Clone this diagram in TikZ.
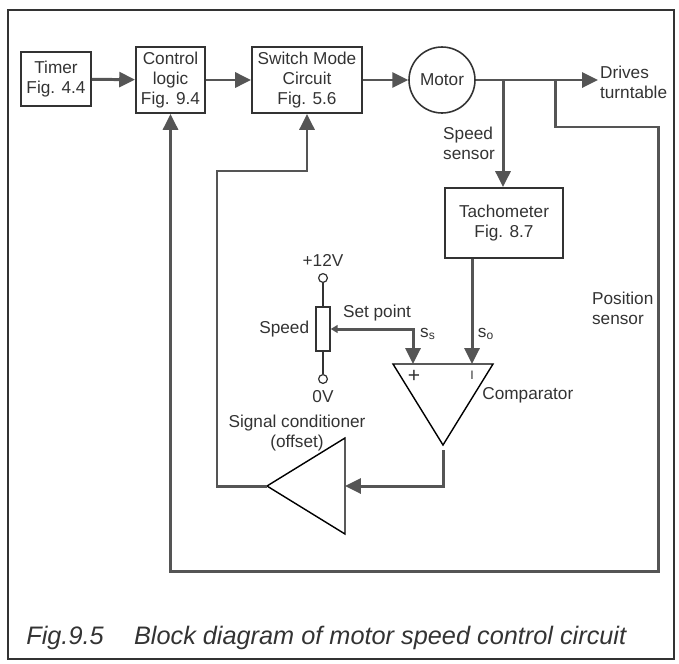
\documentclass[tikz,border=0pt]{standalone}
\usepackage{fontspec}
\setmainfont{Liberation Sans}
\usetikzlibrary{arrows.meta, positioning}
\definecolor{inkgrey}{HTML}{333333}
\definecolor{linegrey}{HTML}{555555}

\begin{document}
\begin{tikzpicture}[
    x=0.02cm, y=-0.02cm,
    font=\fontsize{9.8}{11.4}\selectfont, text=inkgrey,
    % Styles for blocks and signal lines
    block/.style={draw=inkgrey, rectangle, line width=1.1pt, align=center, inner sep=2pt},
    motorbox/.style={draw=inkgrey, circle, line width=0.9pt, minimum size=1.32cm, inner sep=0pt},
    amp/.style={draw=black, line width=0.8pt, line join=miter},
    wire/.style={draw=inkgrey, line width=0.6pt},
    connector/.style={draw=linegrey, line width=1.7pt, -{Triangle[length=9pt, width=8.5pt]}},
    term/.style={draw=inkgrey, circle, line width=0.7pt, minimum size=5pt, inner sep=0pt, fill=white},
    lbl/.style={align=left, inner sep=1pt}
]
    \useasboundingbox (0,0) rectangle (679,663);
    % outer frame
    \draw [line width=1.4pt, draw=inkgrey] (8,10) rectangle (674,659);

    % --- NODES ---
    % forward chain, left to right
    \node [block, minimum width=1.4cm, minimum height=1.08cm] (timer) at (56,79) {Timer\\Fig. 4.4};
    \node [block, minimum width=1.38cm, minimum height=1.32cm] (logic) at (170.5,80) {Control\\logic\\Fig. 9.4};
    \node [block, minimum width=2.2cm, minimum height=1.32cm] (smc) at (307,80) {Switch Mode\\Circuit\\Fig. 5.6};
    \node [motorbox] (motor) at (442,80) {Motor};
    \node [lbl, anchor=west] (drives) at (598,82) {Drives\\turntable};
    \node [block, minimum width=2.36cm, minimum height=1.4cm] (tacho) at (504,223) {Tachometer\\Fig. 8.7};

    % comparator triangle
    \coordinate (cmpl) at (393,364);
    \coordinate (cmpr) at (493,364);
    \coordinate (cmpout) at (443,445);
    \coordinate (cmpplus) at (413,364);
    \coordinate (cmpminus) at (472,364);
    \draw [amp] (cmpl) -- (cmpr) -- (cmpout) -- cycle;

    % signal conditioner triangle
    \coordinate (sctop) at (345,438);
    \coordinate (scbot) at (345,534);
    \coordinate (scout) at (267,486);
    \coordinate (scin) at (345,486);
    \draw [amp] (sctop) -- (scbot) -- (scout) -- cycle;

    % speed potentiometer
    \node [draw=inkgrey, line width=0.8pt, minimum width=0.28cm, minimum height=0.88cm, inner sep=0pt] (pot) at (323,329) {};
    \node [term] (vtop) at (323,278) {};
    \node [term] (vbot) at (323,379) {};
    \draw [wire] (vtop) -- (pot.north);
    \draw [wire] (pot.south) -- (vbot);
    \node [above=0pt of vtop] (plus12) {+12V};
    \node [below=0pt of vbot] (zerov) {0V};
    \node [left=0pt of pot] (speedlbl) {Speed};

    % junctions and corners
    \coordinate (spdj) at (503,80);
    \coordinate (posj) at (555,80);
    \coordinate (posr) at (658,127);
    \coordinate (posb) at (658,571);
    \coordinate (scl) at (217,486);
    \coordinate (scu) at (217,171);

    % --- CONNECTIONS ---
    \draw [connector] (timer) -- (logic);
    \draw [connector] (logic) -- (smc);
    \draw [connector] (smc) -- (motor);
    \draw [connector] (motor) -- (drives.west |- motor);
    \draw [connector] (spdj) -- (spdj |- tacho.north);
    \draw [connector] (posj) |- (posr) -- (posb) -| (logic.south);
    \draw [connector] (tacho.south -| cmpminus) -- (cmpminus);
    \draw [connector, {Triangle[length=4pt, width=4.5pt]}-{Triangle[length=9pt, width=8.5pt]}] (pot.east) -| (cmpplus);
    \draw [connector, shorten <=3pt] (cmpout) |- (scin);
    \draw [connector] (scout) -- (scl) -- (scu) -| (smc.south);

    % labels
    \node [lbl, anchor=east] (spdsens) at (497,143) {Speed\\sensor};
    \node [lbl, anchor=west] (possens) at (590,308) {Position\\sensor};
    \node (setpt) at (377,313) {Set point};
    \node (ss) at (428,334) {s\textsubscript{s}};
    \node (so) at (486,334) {s\textsubscript{o}};
    \node [font=\fontsize{12}{13}\selectfont] (plus) at (414,376) {+};
    \node [font=\fontsize{7}{8}\selectfont] (minus) at (472,375) {I};
    \node [anchor=west, inner sep=0pt] (cmplbl) at (482,395) {Comparator};
    \node [align=center] (sclbl) at (297,433) {Signal conditioner\\(offset)};

    % caption
    \node [anchor=west, inner sep=0pt, font=\fontsize{14.4}{16}\selectfont\itshape] (caption) at (26,638)
        {Fig.9.5\hspace{1.2em}Block diagram of motor speed control circuit};
\end{tikzpicture}
\end{document}
